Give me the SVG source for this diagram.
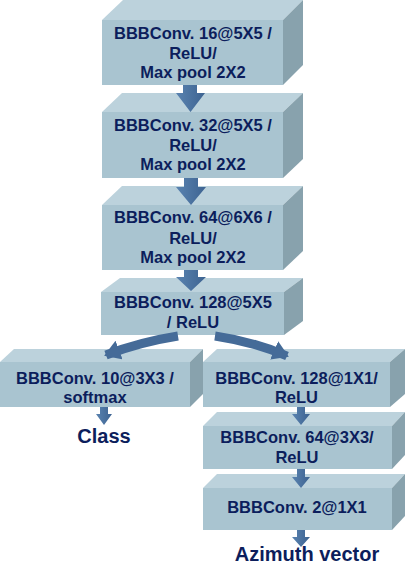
<svg xmlns="http://www.w3.org/2000/svg" width="406" height="566" viewBox="0 0 406 566">
<defs>
<linearGradient id="ag" x1="0" y1="0" x2="1" y2="0">
<stop offset="0" stop-color="#5a83b0"/>
<stop offset="1" stop-color="#3d6391"/>
</linearGradient>
<marker id="bh" markerUnits="userSpaceOnUse" markerWidth="24" markerHeight="24" refX="14" refY="10" orient="auto">
<path d="M0,0 L16,10 L0,20 Z" fill="#456b98"/>
</marker>
</defs>
<style>
.front{fill:#a9c4d0}
.top{fill:#bcd2dc}
.side{fill:#88a2ad}
.t{font-family:"Liberation Sans",Arial,sans-serif;font-weight:bold;font-size:16.5px;fill:#0c1e5c;text-anchor:middle}
.lbl{font-family:"Liberation Sans",Arial,sans-serif;font-weight:bold;font-size:20px;fill:#0c1e5c;text-anchor:middle}
.arr{fill:url(#ag)}
.barr{fill:none;stroke:#456b98;stroke-width:9}
</style>
<rect width="406" height="566" fill="#ffffff"/>

<g id="conv1">
<polygon class="top" points="102,20 123,0 303,0 283,20"/>
<polygon class="side" points="283,20 303,0 303,65 283,85"/>
<rect class="front" x="102" y="20" width="181" height="65"/>
<text class="t" x="193" y="39">BBBConv. 16@5X5 /</text>
<text class="t" x="193" y="59">ReLU/</text>
<text class="t" x="193" y="78">Max pool 2X2</text>
</g>

<g id="conv2">
<polygon class="top" points="102,112 122,93 303,93 283,112"/>
<polygon class="side" points="283,112 303,93 303,159 283,178"/>
<rect class="front" x="102" y="112" width="181" height="66"/>
<text class="t" x="193" y="131">BBBConv. 32@5X5 /</text>
<text class="t" x="193" y="151">ReLU/</text>
<text class="t" x="193" y="170">Max pool 2X2</text>
</g>

<g id="conv3">
<polygon class="top" points="102,205 122,186 303,186 283,205"/>
<polygon class="side" points="283,205 303,186 303,251 283,270"/>
<rect class="front" x="102" y="205" width="181" height="65"/>
<text class="t" x="193" y="223">BBBConv. 64@6X6 /</text>
<text class="t" x="193" y="244">ReLU/</text>
<text class="t" x="193" y="263">Max pool 2X2</text>
</g>

<g id="conv4">
<polygon class="top" points="101,292 120,278 303,278 284,292"/>
<polygon class="side" points="284,292 303,278 303,321 284,335"/>
<rect class="front" x="101" y="292" width="183" height="43"/>
<text class="t" x="193" y="308">BBBConv. 128@5X5</text>
<text class="t" x="193" y="328">/ ReLU</text>
</g>

<g id="conv5">
<polygon class="top" points="0,362 14,349 203,349 190,362"/>
<polygon class="side" points="190,362 203,349 203,394 190,407"/>
<rect class="front" x="0" y="362" width="190" height="45"/>
<text class="t" x="95" y="384">BBBConv. 10@3X3 /</text>
<text class="t" x="95" y="403">softmax</text>
</g>

<g id="conv6">
<polygon class="top" points="203,362 217,349 405,349 390,362"/>
<polygon class="side" points="390,362 405,349 405,394 390,407"/>
<rect class="front" x="203" y="362" width="187" height="45"/>
<text class="t" x="296.5" y="384">BBBConv. 128@1X1/</text>
<text class="t" x="296.5" y="403">ReLU</text>
</g>

<g id="conv7">
<polygon class="top" points="203,426 217,412 405,412 392,426"/>
<polygon class="side" points="392,426 405,412 405,455 392,469"/>
<rect class="front" x="203" y="426" width="189" height="43"/>
<text class="t" x="297" y="443">BBBConv. 64@3X3/</text>
<text class="t" x="297" y="463">ReLU</text>
</g>

<g id="conv8">
<polygon class="top" points="203,488 217,474 405,474 392,488"/>
<polygon class="side" points="392,488 405,474 405,516 392,530"/>
<rect class="front" x="203" y="488" width="189" height="42"/>
<text class="t" x="297" y="513">BBBConv. 2@1X1</text>
</g>

<g id="class-label">
<text class="lbl" x="104" y="443">Class</text>
</g>
<g id="azimuth-label">
<text class="lbl" x="307" y="561">Azimuth vector</text>
</g>

<g id="connectors">
<polygon class="arr" points="183,85 197,85 197,93 205,93 190.5,112 176,93 183,93"/>
<polygon class="arr" points="184,178 198,178 198,187 206,187 191,205 176,187 184,187"/>
<polygon class="arr" points="184,270 198,270 198,277 206,277 191,291 176,277 184,277"/>
<path class="barr" d="M178,336 Q140,342 106,355" marker-end="url(#bh)"/>
<path class="barr" d="M215,336 Q255,342 287,356" marker-end="url(#bh)"/>
<polygon class="arr" points="100,407 108,407 108,414 112,414 104,425 96,414 100,414"/>
<polygon class="arr" points="297,407 305,407 305,414 310,414 301,425 292,414 297,414"/>
<polygon class="arr" points="297,469 305,469 305,477 310,477 301,488 292,477 297,477"/>
<polygon class="arr" points="297,530 305,530 305,537 310,537 301,547 292,537 297,537"/>
</g>
</svg>
